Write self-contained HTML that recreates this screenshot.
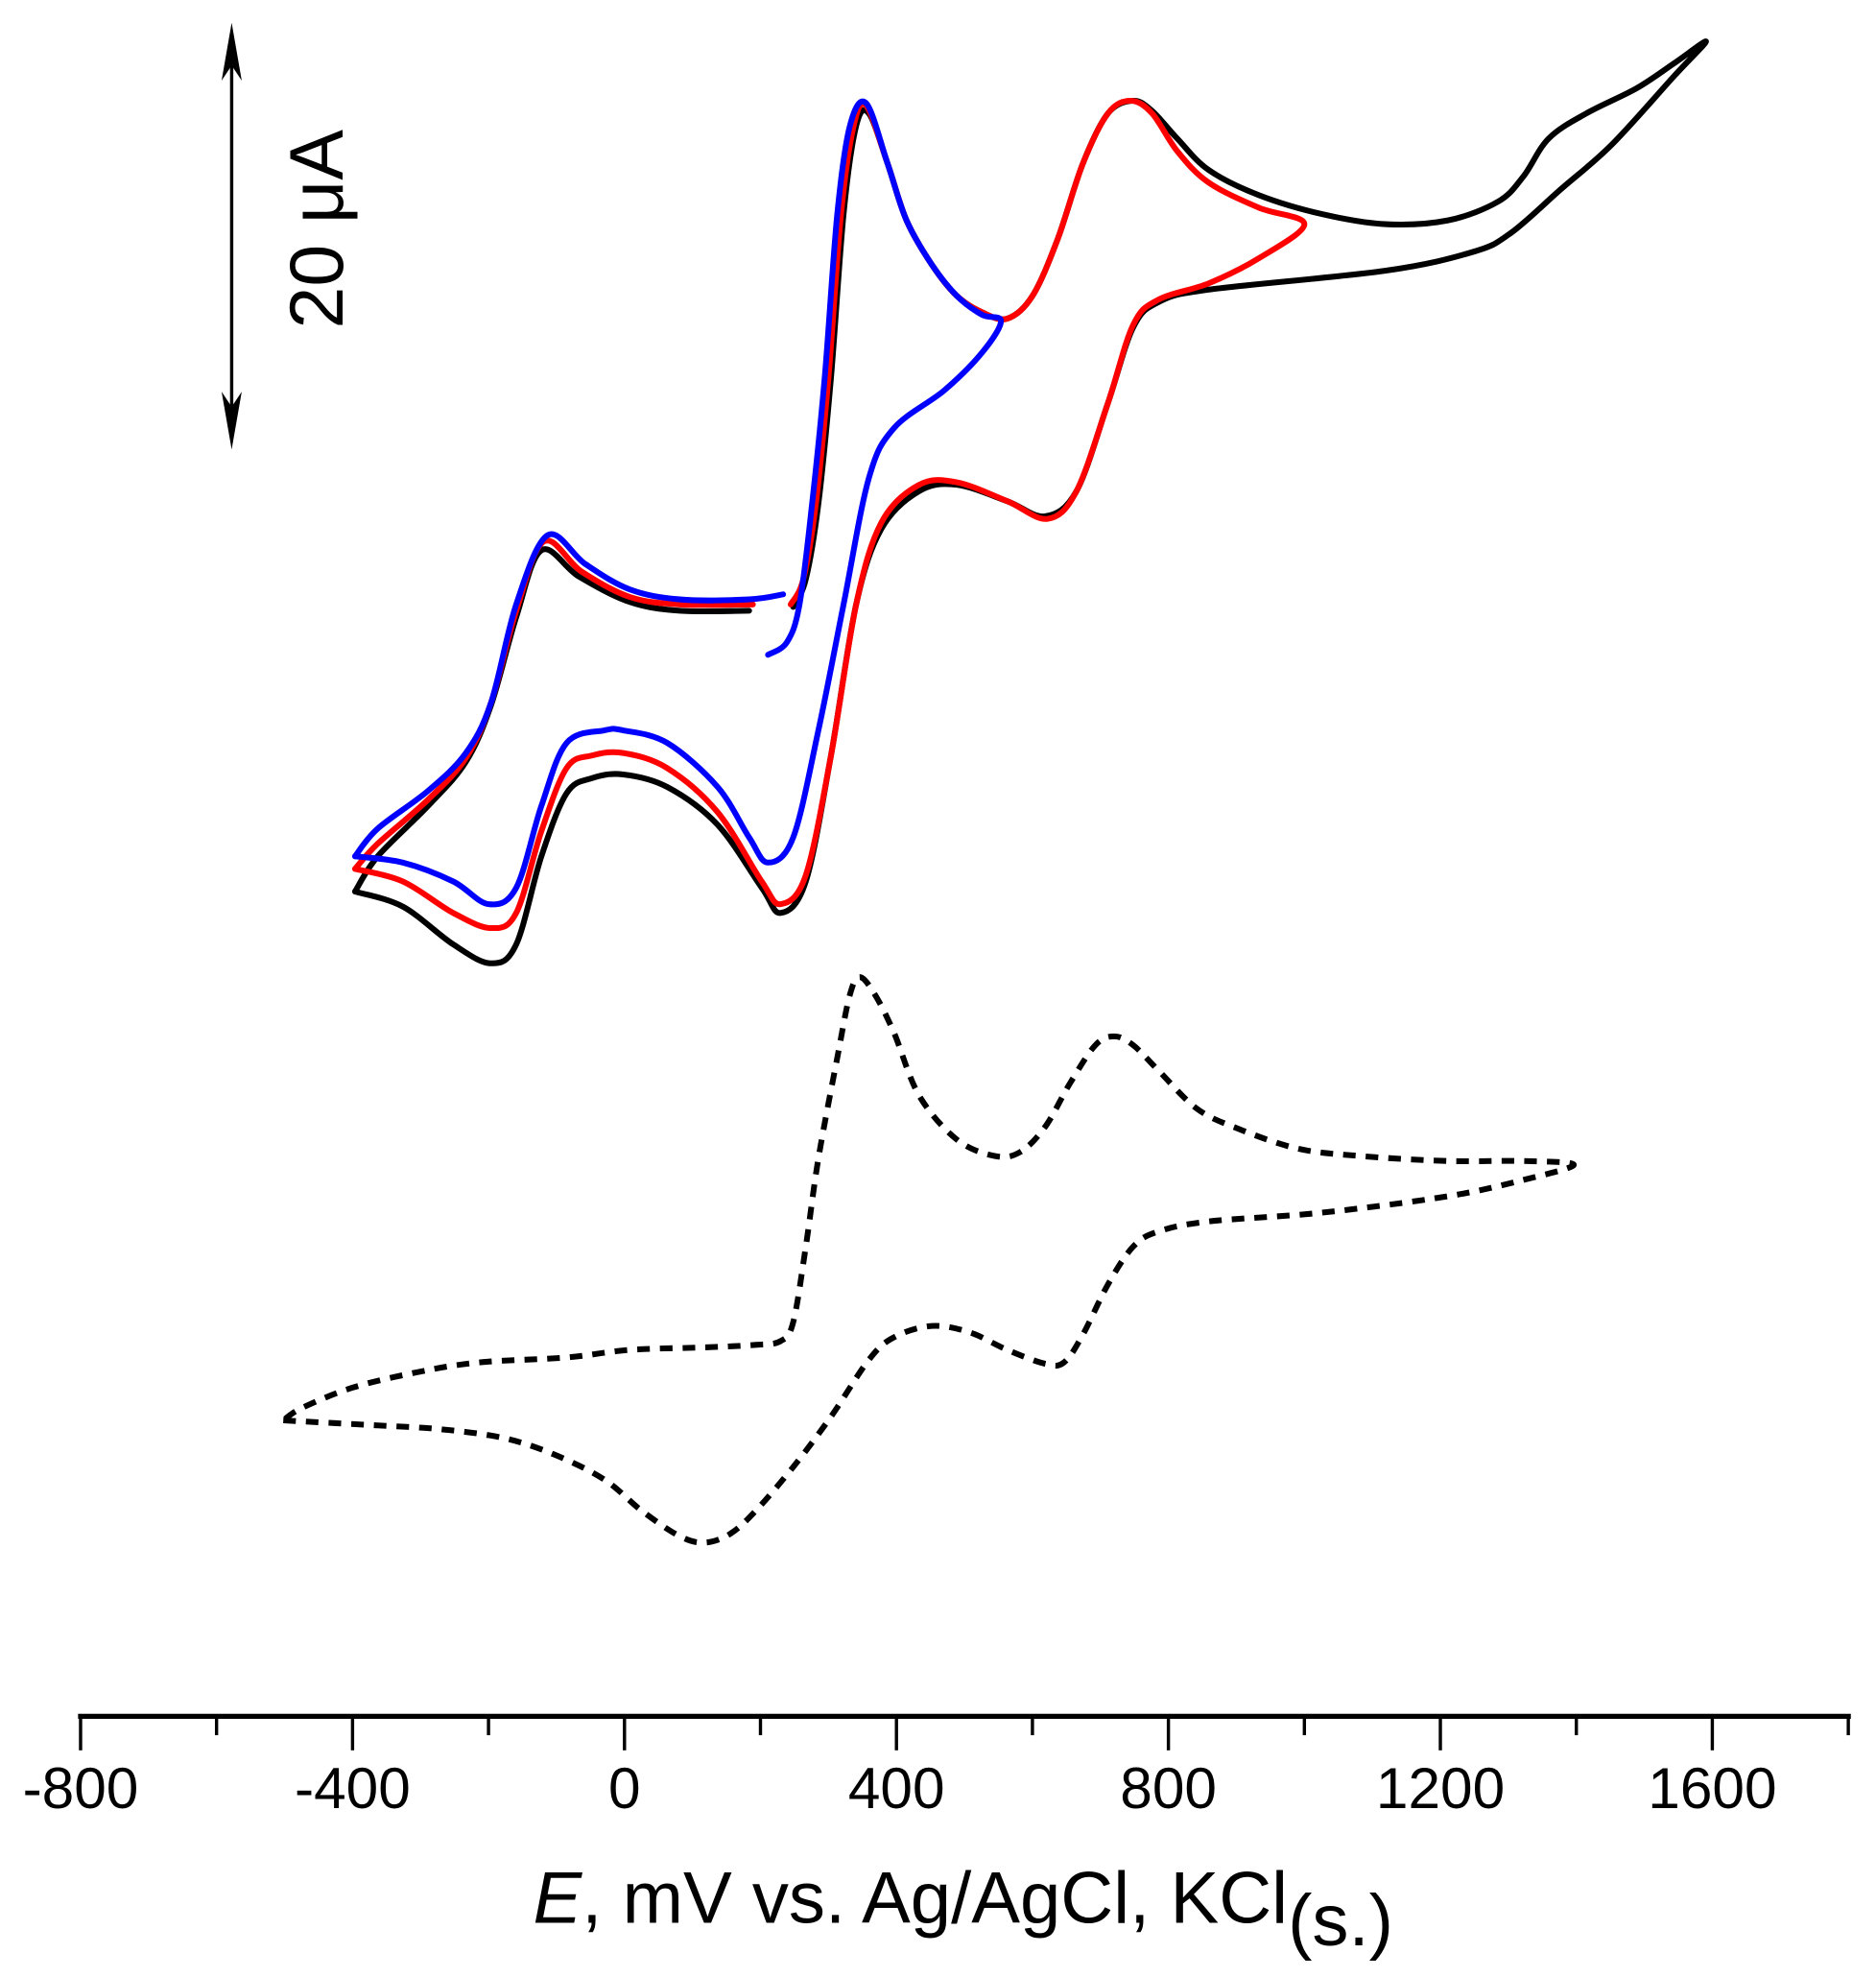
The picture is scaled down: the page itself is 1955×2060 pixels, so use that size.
<!DOCTYPE html>
<html><head><meta charset="utf-8"><style>html,body{margin:0;padding:0;background:#fff}svg{display:block}</style></head>
<body>
<svg id="s" width="1955" height="2060" viewBox="0 0 1490 1570" xmlns="http://www.w3.org/2000/svg">
<rect width="1490" height="1570" fill="#fff"/>
<g fill="none" stroke-width="4.6" stroke-linejoin="round" stroke-linecap="round">
<polyline class="sm" stroke="#000" points="282,708 320,720 360,750 390,765 410,750 430,680 450,630 470,618 495,615 530,625 570,655 605,705 620,725 640,700 660,600 680,480 700,420 730,390 760,385 800,398 830,410 855,390 880,320 900,260 920,240 960,230 1100,215 1170,200 1200,185 1240,150 1280,115 1330,60 1355,33 1330,50 1300,70 1260,90 1230,110 1210,140 1190,160 1150,175 1100,178 1050,170 1000,155 960,135 935,110 915,88 900,80 880,90 860,130 840,190 820,235 800,253 780,248 760,235 740,210 720,175 705,130 690,90 680,100 670,170 660,300 650,400 640,460 630,482"/>
<polyline class="sm" stroke="#000" points="595,485 540,485 500,478 460,458 430,437 410,490 390,560 370,605 340,640 300,680 282,708"/>
<polyline class="sm" stroke="#f00" points="282,690 320,700 360,725 390,737 410,725 430,660 450,610 470,600 495,598 530,610 570,645 605,700 620,718 640,695 660,600 680,480 700,415 730,385 760,383 800,398 832,412 855,390 880,320 900,258 920,238 960,225 1000,205 1036,178 1000,165 960,145 935,120 915,90 898,80 880,90 860,130 840,190 820,235 800,253 780,248 760,235 740,210 720,175 705,130 688,84 678,100 668,170 658,300 648,400 638,460 628,480"/>
<polyline class="sm" stroke="#f00" points="598,480 540,480 500,474 462,454 432,430 410,485 390,558 370,602 340,635 300,670 282,690"/>
<polyline class="sm" stroke="#00f" points="282,680 320,685 360,700 388,718 410,705 430,640 450,590 480,580 495,580 530,590 570,625 595,665 610,685 630,665 650,580 670,480 690,380 710,340 750,310 780,280 795,255 780,250 760,235 740,210 720,175 705,130 688,82 675,100 665,170 655,300 645,400 635,480 625,510 610,520"/>
<polyline class="sm" stroke="#00f" points="622,472 595,476 540,476 500,468 465,448 435,425 410,480 390,558 370,598 340,628 300,658 282,680"/>
<polyline class="sm" stroke="#000" stroke-dasharray="10,8" stroke-linecap="butt" points="225,1128 300,1132 350,1135 400,1142 440,1155 480,1175 510,1200 540,1220 560,1225 580,1218 600,1200 630,1165 660,1125 690,1080 710,1062 740,1053 770,1058 800,1072 830,1083 845,1082 860,1060 880,1020 900,990 920,978 960,970 1050,963 1150,950 1210,937 1250,925 1210,922 1150,922 1080,918 1030,912 980,895 950,880 920,850 900,830 885,823 870,830 850,860 830,895 810,915 790,918 760,905 730,870 710,820 695,790 683,776 675,790 665,840 650,920 640,990 630,1050 620,1065 600,1068 560,1070 500,1072 450,1078 380,1082 330,1090 280,1102 240,1118 225,1128"/>
</g>
<line x1="184" y1="30" x2="184" y2="345" stroke="#000" stroke-width="2.6"/>
<polygon points="184,18 176,64 184,52 192,64" fill="#000"/>
<polygon points="184,357 176,311 184,323 192,311" fill="#000"/>
<text transform="translate(272,182) rotate(-90)" text-anchor="middle" font-family="Liberation Sans, sans-serif" font-size="60">20 μA</text>
<line x1="62" y1="1363" x2="1470" y2="1363" stroke="#000" stroke-width="4"/>
<g stroke="#000" stroke-width="2.6">
<line x1="64" y1="1363" x2="64" y2="1390"/><line x1="172" y1="1363" x2="172" y2="1378"/>
<line x1="280" y1="1363" x2="280" y2="1390"/><line x1="388" y1="1363" x2="388" y2="1378"/>
<line x1="496" y1="1363" x2="496" y2="1390"/><line x1="604" y1="1363" x2="604" y2="1378"/>
<line x1="712" y1="1363" x2="712" y2="1390"/><line x1="820" y1="1363" x2="820" y2="1378"/>
<line x1="928" y1="1363" x2="928" y2="1390"/><line x1="1036" y1="1363" x2="1036" y2="1378"/>
<line x1="1144" y1="1363" x2="1144" y2="1390"/><line x1="1252" y1="1363" x2="1252" y2="1378"/>
<line x1="1360" y1="1363" x2="1360" y2="1390"/><line x1="1468" y1="1363" x2="1468" y2="1378"/>
</g>
<g font-family="Liberation Sans, sans-serif" font-size="46" text-anchor="middle">
<text x="64" y="1436">-800</text><text x="280" y="1436">-400</text><text x="496" y="1436">0</text>
<text x="712" y="1436">400</text><text x="928" y="1436">800</text><text x="1144" y="1436">1200</text><text x="1360" y="1436">1600</text>
</g>
<text x="765" y="1527" text-anchor="middle" font-family="Liberation Sans, sans-serif" font-size="58"><tspan font-style="italic">E</tspan>, mV vs. Ag/AgCl, KCl<tspan dy="18">(s.)</tspan></text>
</svg>
<script>
(function(){
var ns="http://www.w3.org/2000/svg";
document.querySelectorAll("polyline.sm").forEach(function(pl){
 var p=pl.getAttribute("points").trim().split(/\s+/).map(function(s){return s.split(",").map(Number);});
 var d="M"+p[0][0]+","+p[0][1];
 for(var i=0;i<p.length-1;i++){
  var p0=p[i-1]||p[i],p1=p[i],p2=p[i+1],p3=p[i+2]||p2,t=6;
  d+=" C"+(p1[0]+(p2[0]-p0[0])/t)+","+(p1[1]+(p2[1]-p0[1])/t)+" "+(p2[0]-(p3[0]-p1[0])/t)+","+(p2[1]-(p3[1]-p1[1])/t)+" "+p2[0]+","+p2[1];
 }
 var path=document.createElementNS(ns,"path");
 for(var j=0;j<pl.attributes.length;j++){var a=pl.attributes[j];if(a.name!="points"&&a.name!="class")path.setAttribute(a.name,a.value);}
 path.setAttribute("d",d);
 pl.parentNode.replaceChild(path,pl);
});
})();
</script>
</body></html>
